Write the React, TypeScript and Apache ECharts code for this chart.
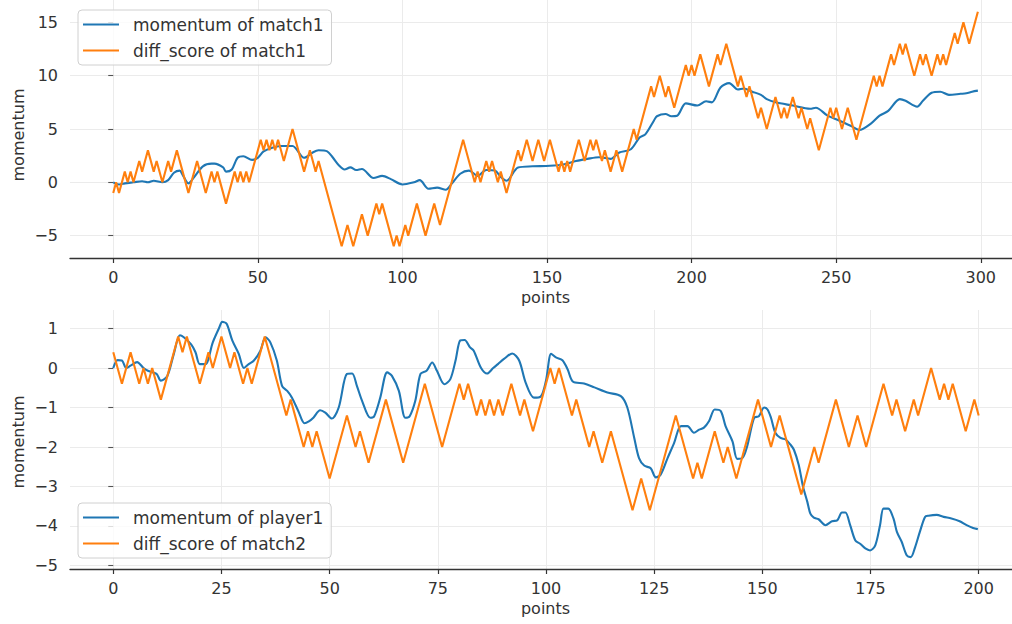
import React, { useEffect, useRef } from "react";
import * as echarts from "echarts";

// ---------- tick values ----------
const topXTicks = [0, 50, 100, 150, 200, 250, 300];
const topYTicks = [-5, 0, 5, 10, 15];
const botXTicks = [0, 25, 50, 75, 100, 125, 150, 175, 200];
const botYTicks = [-5, -4, -3, -2, -1, 0, 1];

// ---------- series (point index, value) ----------
const momentumMatch1: [number, number][] = [
  [0, 0], [2, -0.2], [4, -0.1], [7, 0], [10, 0.1], [12, 0], [14, 0.15], [17, 0], [19, 0.2], [21, 0.9],
  [23, 1.1], [24, 0.7], [26, -0.1], [28, 0.5], [31, 1.5], [34, 1.75], [35, 1.75], [38, 1.4], [39, 1.0], [41, 1.2],
  [43, 2.3], [45, 2.45], [48, 2.1], [50, 2.3], [52, 2.9], [55, 3.25], [58, 3.4], [62, 3.4], [66, 2.3], [69, 2.8],
  [71, 3.0], [74, 2.9], [76, 2.3], [78, 1.6], [80, 1.2], [82, 1.4], [84, 1.15], [86, 1.25], [90, 0.4], [93, 0.6],
  [96, 0.3], [100, -0.2], [104, 0], [106, 0.2], [109, -0.6], [112, -0.5], [115, -0.7], [117, -0.15], [120, 0.8], [123, 1.1],
  [126, 0.6], [129, 1.15], [132, 1.1], [134, 0.5], [136, 0.15], [140, 1.4], [145, 1.5], [151, 1.55], [156, 1.7], [160, 2.0],
  [164, 2.2], [168, 2.35], [172, 2.2], [175, 2.8], [179, 3.1], [182, 4.2], [184, 4.5], [187, 5.8], [188, 6.2], [191, 6.4],
  [193, 6.2], [195, 6.25], [198, 7.4], [202, 7.2], [205, 7.6], [207, 7.5], [210, 8.9], [213, 9.3], [216, 8.7], [218, 8.8],
  [221, 8.5], [224, 8.2], [226, 7.8], [229, 7.5], [235, 7.2], [241, 6.9], [243, 7.0], [247, 6.25], [251, 5.8], [255, 5.3],
  [258, 4.9], [262, 5.5], [265, 6.25], [268, 6.7], [272, 7.8], [274, 7.65], [278, 7.1], [280, 7.65], [283, 8.4], [286, 8.5],
  [289, 8.2], [293, 8.3], [295, 8.35], [297, 8.5], [299, 8.6],
];

const diffMatch1: [number, number][] = [
  [0, -1], [1, 0], [2, -1], [4, 1], [5, 0], [6, 1], [7, 0], [9, 2], [10, 1], [12, 3],
  [14, 1], [15, 2], [17, 0], [19, 2], [20, 1], [22, 3], [24, 1], [26, -1], [29, 2], [32, -1],
  [34, 1], [35, 0], [36, 1], [39, -2], [42, 1], [43, 0], [44, 1], [45, 0], [46, 1], [47, 0],
  [51, 4], [52, 3], [53, 4], [54, 3], [55, 4], [56, 3], [57, 4], [58, 3], [59, 2], [62, 5],
  [66, 1], [68, 3], [70, 1], [71, 2], [79, -6], [81, -4], [83, -6], [86, -3], [88, -5], [91, -2],
  [92, -3], [93, -2], [97, -6], [98, -5], [99, -6], [101, -4], [102, -5], [105, -2], [108, -5], [111, -2],
  [113, -4], [121, 4], [125, 0], [126, 1], [127, 0], [129, 2], [130, 1], [131, 2], [133, 0], [134, 1],
  [136, -1], [140, 3], [141, 2], [143, 4], [145, 2], [147, 4], [149, 2], [151, 4], [154, 1], [155, 2],
  [156, 1], [157, 2], [158, 1], [161, 4], [163, 2], [165, 4], [166, 3], [167, 4], [169, 2], [170, 3],
  [172, 1], [174, 3], [176, 1], [180, 5], [181, 4], [186, 9], [187, 8], [189, 10], [191, 8], [192, 9],
  [194, 7], [198, 11], [199, 10], [200, 11], [201, 10], [203, 12], [206, 9], [209, 12], [210, 11], [212, 13],
  [216, 9], [217, 10], [219, 8], [220, 9], [223, 6], [224, 7], [226, 5], [229, 8], [231, 6], [232, 7],
  [233, 6], [235, 8], [237, 6], [238, 7], [240, 5], [241, 6], [244, 3], [248, 7], [249, 6], [250, 7],
  [252, 5], [254, 7], [257, 4], [263, 10], [264, 9], [265, 10], [266, 9], [269, 12], [270, 11], [272, 13],
  [273, 12], [274, 13], [277, 10], [279, 12], [280, 11], [281, 12], [283, 10], [285, 12], [286, 11], [287, 12],
  [288, 11], [291, 14], [292, 13], [294, 15], [296, 13], [299, 16],
];

const momentumPlayer1: [number, number][] = [
  [0, 0], [1, 0.2], [2, 0.19], [3, 0], [4, 0.06], [5.5, 0.15], [7, 0], [8, -0.07], [10, -0.15], [11, -0.32],
  [12.5, -0.2], [14, 0.36], [15.4, 0.83], [16.3, 0.78], [18, 0.6], [19, 0.4], [20, 0.1], [21.3, 0.1], [23, 0.65], [24.4, 1.0],
  [25.2, 1.17], [26.2, 1.12], [27.5, 0.7], [29, 0.36], [30.2, 0], [31.3, 0.1], [32.5, 0.19], [34, 0.44], [35.2, 0.78], [36.3, 0.65],
  [37.8, 0.19], [39, -0.45], [40.2, -0.58], [41.3, -0.75], [42.8, -1.1], [44.2, -1.4], [45.2, -1.35], [46.3, -1.25], [47.8, -1.07], [49, -1.13],
  [50.5, -1.28], [52.1, -1.0], [54, -0.15], [55.2, -0.14], [56.3, -0.45], [57.5, -0.83], [59.4, -1.26], [60.3, -1.22], [61.7, -0.75], [63.3, -0.11],
  [64.4, -0.2], [66, -0.58], [67.5, -1.26], [68.5, -1.22], [69.8, -0.83], [71, -0.15], [72.4, -0.07], [73.7, 0.14], [74.8, -0.07], [76.5, -0.41],
  [77.9, -0.28], [79.1, 0.19], [80.2, 0.7], [81.2, 0.71], [82.4, 0.53], [83.3, 0.44], [85, 0], [86.4, -0.14], [87.8, 0], [88.9, 0.1],
  [90.3, 0.23], [92.2, 0.37], [93.8, 0.19], [95.3, -0.37], [97.2, -0.75], [98.8, -0.72], [100, -0.32], [101.2, 0.36], [102.3, 0.27], [103.8, 0.2],
  [105, -0.03], [106.2, -0.34], [108.8, -0.39], [111.2, -0.49], [114.2, -0.62], [117.3, -0.71], [118.8, -1.0], [120.4, -1.77], [121.5, -2.28], [122.7, -2.47],
  [124.2, -2.54], [125.4, -2.77], [126.5, -2.7], [128.1, -2.28], [129.6, -1.9], [131.2, -1.47], [132.7, -1.47], [134.2, -1.64], [135.4, -1.56], [136.5, -1.51],
  [137.7, -1.34], [139, -1.05], [140.4, -1.09], [141.5, -1.47], [143.1, -1.86], [144.2, -2.3], [145.4, -2.28], [146.5, -1.98], [148.1, -1.26], [149.2, -1.22],
  [150.4, -1.0], [151.2, -1.05], [152, -1.26], [153, -1.64], [154.2, -1.77], [155.4, -1.81], [156.5, -1.94], [157.3, -2.07], [158.4, -2.45], [159.4, -3.0],
  [160.4, -3.39], [161.1, -3.69], [161.9, -3.79], [163, -3.83], [164.6, -3.98], [166.1, -3.88], [167.3, -3.86], [168.4, -3.66], [169.2, -3.66], [170.3, -3.98],
  [171.5, -4.37], [172.6, -4.45], [173.8, -4.57], [174.9, -4.62], [176.1, -4.49], [177.2, -3.98], [178, -3.56], [179.1, -3.56], [180.3, -3.81], [181.1, -4.15],
  [182.2, -4.4], [183.4, -4.75], [184.3, -4.79], [185.3, -4.54], [186.4, -4.15], [187.6, -3.77], [188.4, -3.74], [190.3, -3.72], [191.9, -3.77], [193.7, -3.81],
  [195.6, -3.88], [197.2, -3.98], [198.7, -4.05], [199.8, -4.08],
];

const diffMatch2: [number, number][] = [
  [0, 0.4], [2, -0.4], [4, 0.4], [6, -0.4], [7, 0], [8, -0.4], [9, 0], [11, -0.8], [15, 0.8], [16, 0.4],
  [17, 0.8], [20, -0.4], [22, 0.4], [23, 0], [25, 0.8], [27, 0], [28, 0.4], [30, -0.4], [31, 0], [32, -0.4],
  [35, 0.8], [40, -1.2], [41, -0.8], [44, -2], [45, -1.6], [46, -2], [47, -1.6], [50, -2.8], [54, -1.2], [56, -2],
  [57, -1.6], [59, -2.4], [63, -0.8], [67, -2.4], [72, -0.4], [76, -2], [80, -0.4], [81, -0.8], [82, -0.4], [84, -1.2],
  [85, -0.8], [86, -1.2], [87, -0.8], [88, -1.2], [89, -0.8], [90, -1.2], [92, -0.4], [94, -1.2], [95, -0.8], [97, -1.6],
  [101, 0], [102, -0.4], [103, 0], [106, -1.2], [107, -0.8], [110, -2], [111, -1.6], [113, -2.4], [115, -1.6], [120, -3.6],
  [122, -2.8], [124, -3.6], [130, -1.2], [134, -2.8], [135, -2.4], [136, -2.8], [139, -1.6], [141, -2.4], [142, -2], [144, -2.8],
  [149, -0.8], [152, -2], [154, -1.2], [159, -3.2], [162, -2], [163, -2.4], [167, -0.8], [170, -2], [172, -1.2], [174, -2],
  [178, -0.4], [180, -1.2], [181, -0.8], [183, -1.6], [185, -0.8], [186, -1.2], [189, 0], [191, -0.8], [192, -0.4], [193, -0.8],
  [194, -0.4], [197, -1.6], [199, -0.8], [200, -1.2],
];

const FONT = "DejaVu Sans";
const TEXT = "#333333";
const BLUE = "#1f77b4";
const ORANGE = "#ff7f0e";

const fmt = (v: number) => (v < 0 ? "\u2212" + Math.abs(v) : String(v));

function xAxis(gridIndex: number, min: number, max: number, ticks: number[]) {
  return {
    type: "value",
    gridIndex,
    min,
    max,
    name: "points",
    nameLocation: "middle",
    nameGap: 31,
    nameTextStyle: { fontFamily: FONT, fontSize: 16, color: TEXT, padding: [0, 0, 0, 9] },
    axisLine: { show: true, onZero: false, lineStyle: { color: "#333333", width: 1.3 } },
    axisTick: { show: true, length: 5, customValues: ticks, lineStyle: { color: "#333333", width: 1.2 } },
    axisLabel: { customValues: ticks, margin: 11, fontFamily: FONT, fontSize: 16, color: TEXT, formatter: fmt },
    splitLine: { show: true, lineStyle: { color: "#ebebeb", width: 1 } },
  };
}

function yAxis(gridIndex: number, min: number, max: number, ticks: number[]) {
  return {
    type: "value",
    gridIndex,
    min,
    max,
    axisLine: { show: false },
    axisTick: { show: true, length: 5, customValues: ticks, lineStyle: { color: "#555555", width: 1.1 } },
    axisLabel: { customValues: ticks, margin: 12, fontFamily: FONT, fontSize: 16, color: TEXT, formatter: fmt },
    splitLine: { show: true, lineStyle: { color: "#ebebeb", width: 1 } },
  };
}

function legend(names: string[], top: number) {
  return {
    data: names,
    orient: "vertical",
    left: 78,
    top,
    icon: "rect",
    itemWidth: 36,
    itemHeight: 2,
    itemGap: 7,
    padding: [5, 8, 5, 5],
    backgroundColor: "rgba(255,255,255,0.8)",
    borderColor: "#d0d0d0",
    borderWidth: 1,
    borderRadius: 4,
    selectedMode: false,
    textStyle: { fontFamily: FONT, fontSize: 17, color: TEXT, lineHeight: 19, padding: [0, 0, 0, 9] },
  };
}

function line(name: string, data: [number, number][], color: string, idx: number, smooth: number | boolean) {
  return {
    name,
    type: "line",
    xAxisIndex: idx,
    yAxisIndex: idx,
    data,
    showSymbol: false,
    symbol: "none",
    smooth,
    lineStyle: { color, width: 2.1 },
    itemStyle: { color },
  };
}

export default function App() {
  const ref = useRef<HTMLDivElement>(null);
  useEffect(() => {
    document.body.style.margin = "0";
    if (!ref.current) return;
    const chart = echarts.init(ref.current, null, { renderer: "svg" });
    chart.setOption({
      animation: false,
      backgroundColor: "#ffffff",
      grid: [
        { left: 70, top: 0, right: 0, height: 258 },
        { left: 70, top: 310, right: 0, height: 259 },
      ],
      xAxis: [xAxis(0, -14.95, 310.8, topXTicks), xAxis(1, -10, 207.7, botXTicks)],
      yAxis: [yAxis(0, -7.1, 17.1, topYTicks), yAxis(1, -5.09, 1.47, botYTicks)],
      legend: [
        legend(["momentum of match1", "diff_score of match1"], 10),
        legend(["momentum of player1", "diff_score of match2"], 503),
      ],
      graphic: [
        {
          type: "text", x: 18, y: 135, rotation: Math.PI / 2,
          style: { text: "momentum", fontFamily: FONT, fontSize: 16, fill: TEXT, align: "center", verticalAlign: "middle" },
        },
        {
          type: "text", x: 18, y: 442, rotation: Math.PI / 2,
          style: { text: "momentum", fontFamily: FONT, fontSize: 16, fill: TEXT, align: "center", verticalAlign: "middle" },
        },
      ],
      series: [
        line("momentum of match1", momentumMatch1, BLUE, 0, 0.3),
        line("diff_score of match1", diffMatch1, ORANGE, 0, false),
        line("momentum of player1", momentumPlayer1, BLUE, 1, 0.3),
        line("diff_score of match2", diffMatch2, ORANGE, 1, false),
      ],
    });
    return () => chart.dispose();
  }, []);
  return <div ref={ref} style={{ width: 1012, height: 624 }} />;
}
